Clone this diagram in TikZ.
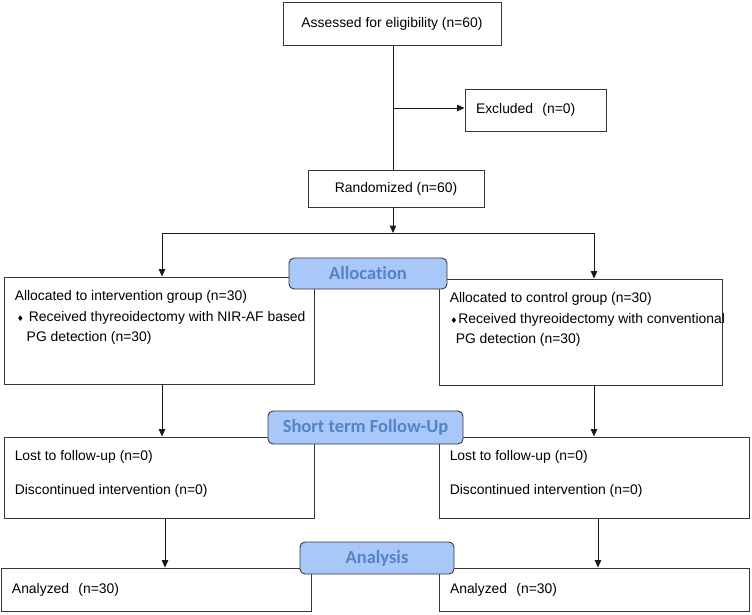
\documentclass[tikz,border=0pt]{standalone}
\usepackage{fontspec}
\setmainfont{Liberation Sans}
\newfontfamily\labelfont[Ligatures={NoCommon}]{Carlito}
\newfontfamily\symfont{DejaVu Sans}
\usetikzlibrary{arrows.meta}
\definecolor{stagefill}{RGB}{170,199,250}
\definecolor{stagetext}{RGB}{84,132,196}
\definecolor{edgegray}{RGB}{55,55,55}
\newcommand{\pgbul}{{\symfont\fontsize{8}{8}\selectfont ♦}}

\begin{document}
\begin{tikzpicture}[x=1pt,y=-1pt,
    font=\fontsize{13.9}{20.5}\selectfont,
    box/.style={draw=edgegray,line width=0.9pt,fill=white,inner ysep=0pt,inner xsep=11pt,align=left},
    txt/.style={inner sep=0pt,align=left,anchor=north west},
    stage/.style={draw=edgegray,line width=0.9pt,fill=stagefill,rounded corners=5pt,text=stagetext,
        font=\labelfont\bfseries\fontsize{18.5}{20}\selectfont,inner sep=0pt},
    line/.style={draw=black!90,line width=1pt},
    arr/.style={-{Triangle[length=7.5pt,width=6.5pt]}}]
\useasboundingbox (0,0) rectangle (752,614);

\node[box,minimum width=218pt,minimum height=43pt,align=center] (assess) at (392,23.5) {Assessed for eligibility (n=60)};
\node[box,minimum width=141pt,minimum height=42pt,text width=119pt] (excl) at (535.5,110) {Excluded\ \ (n=0)};
\node[box,minimum width=176pt,minimum height=37pt,align=center] (rand) at (396,188.5) {Randomized (n=60)};

\node[box,minimum width=310pt,minimum height=107pt] (allocL) at (159,330.5) {};
\node[txt] (allocLtxt) at ([shift={(11pt,-14pt)}]allocL.north west) {Allocated to intervention group (n=30)\\
    \hspace*{2pt}\pgbul\hspace{5pt}Received thyreoidectomy with NIR-AF based\\
    \hspace*{12pt}PG detection (n=30)};
\node[box,minimum width=283pt,minimum height=106pt] (allocR) at (580.5,332) {};
\node[txt] (allocRtxt) at ([shift={(11pt,-14pt)}]allocR.north west) {Allocated to control group (n=30)\\
    \hspace*{0.5pt}\pgbul\hspace{1pt}Received thyreoidectomy with conventional\\
    \hspace*{6pt}PG detection (n=30)};

\node[box,minimum width=310pt,minimum height=81pt] (folL) at (159,477.5) {};
\node[txt] (folLtxt) at ([shift={(11pt,-14pt)}]folL.north west) {Lost to follow-up (n=0)\\[13.5pt]
    Discontinued intervention (n=0)};
\node[box,minimum width=310pt,minimum height=81pt] (folR) at (594,477.5) {};
\node[txt] (folRtxt) at ([shift={(11pt,-14pt)}]folR.north west) {Lost to follow-up (n=0)\\[13.5pt]
    Discontinued intervention (n=0)};

\node[box,minimum width=310pt,minimum height=43pt,text width=288pt] (anaL) at (156,589.5) {Analyzed\ \ (n=30)};
\node[box,minimum width=310pt,minimum height=43pt,text width=288pt] (anaR) at (594,589.5) {Analyzed\ \ (n=30)};

\coordinate (fork) at (393,108);
\coordinate (split) at (393,233);
\coordinate (splitL) at (162,233);
\coordinate (splitR) at (594,233);

\draw[line] (assess.south -| fork) -- (rand.north -| fork);
\draw[line,arr] (fork) -- (fork -| excl.west);
\draw[line,arr] (rand.south -| split) -- (split);
\draw[line] (splitL) -- (splitR);
\draw[line,arr] (splitL) -- (splitL |- allocL.north);
\draw[line,arr] (splitR) -- (splitR |- allocR.north);
\draw[line,arr] (allocL.south -| splitL) -- (splitL |- folL.north);
\draw[line,arr] (allocR.south -| splitR) -- (splitR |- folR.north);
\draw[line,arr] ([xshift=3pt]folL.south -| splitL) -- ([xshift=3pt]anaL.north -| splitL);
\draw[line,arr] ([xshift=4pt]folR.south -| splitR) -- ([xshift=4pt]anaR.north -| splitR);

\node[stage,minimum width=158pt,minimum height=31pt] (allocation) at (368,273.5) {Allocation};
\node[stage,minimum width=195pt,minimum height=33pt] (shortterm) at (365.5,427.5) {Short term Follow-Up};
\node[stage,minimum width=154pt,minimum height=32pt] (analysis) at (377,558) {Analysis};
\end{tikzpicture}
\end{document}
